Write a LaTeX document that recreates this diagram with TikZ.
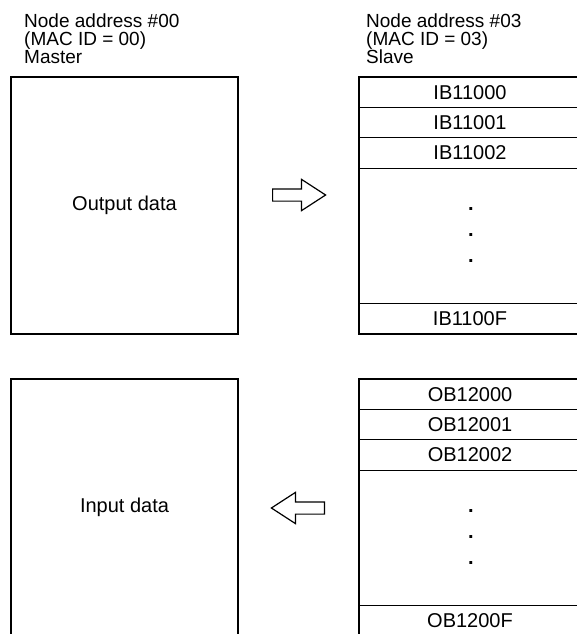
\documentclass[tikz,border=0pt]{standalone}
\usepackage{fontspec}
\setmainfont{Liberation Sans}
\usetikzlibrary{positioning,shapes.arrows}
\begin{document}
\begin{tikzpicture}[x=1pt,y=-1pt,
  every node/.style={font=\fontsize{20}{17.5}\selectfont},
  databox/.style={rectangle, draw, line width=1.2pt, minimum width=227pt,
    minimum height=257pt, inner sep=0pt, outer sep=0pt},
  memblock/.style={rectangle, draw, line width=1.2pt, minimum width=222pt,
    minimum height=257pt, inner sep=0pt, outer sep=0pt},
  wordrow/.style={rectangle, draw, line width=1.2pt, minimum width=222pt,
    minimum height=30.4pt, inner sep=0pt, outer sep=0pt},
  blockarrow/.style={single arrow, draw, line width=1.2pt, minimum height=53pt,
    inner xsep=0pt, inner ysep=5.5pt, single arrow head extend=9.5pt,
    single arrow tip angle=66, anchor=tail},
  header/.style={align=left, anchor=north west, inner sep=0pt,
    font=\fontsize{19}{18}\selectfont},
  gapdot/.style={inner sep=0pt, font=\fontsize{20}{20}\selectfont\bfseries}
]
  \clip (0,0) rectangle (577,634);

  \node[header] (mhead) at (24,14) {Node address \#00\\(MAC ID = 00)\\Master};
  \node[header] (shead) at (366,14) {Node address \#03\\(MAC ID = 03)\\Slave};

  \node[databox] (outbox) at (124.5,205.5) {Output data};
  \node[databox, below=45pt of outbox] (inbox) {Input data};

  \node[memblock] (ibblk) at (470,205.5) {};
  \node[memblock, below=45pt of ibblk] (obblk) {};

  \node[wordrow, anchor=north] (ib0) at (ibblk.north) {IB11000};
  \node[wordrow, below=0pt of ib0] (ib1) {IB11001};
  \node[wordrow, below=0pt of ib1] (ib2) {IB11002};
  \node[wordrow, anchor=south] (ibF) at (ibblk.south) {IB1100F};

  \node[wordrow, anchor=north] (ob0) at (obblk.north) {OB12000};
  \node[wordrow, below=0pt of ob0] (ob1) {OB12001};
  \node[wordrow, below=0pt of ob1] (ob2) {OB12002};
  \node[wordrow, anchor=south] (obF) at (obblk.south) {OB1200F};

  \foreach \k in {0,1,2} {
    \node[gapdot] (ibdot\k) at (471,209+26*\k) {.};
    \node[gapdot] (obdot\k) at (471,511+26*\k) {.};
  }

  \node[blockarrow] (fwd) at (272,195) {};
  \node[blockarrow, shape border rotate=180] (bwd) at (325,508) {};
\end{tikzpicture}
\end{document}
